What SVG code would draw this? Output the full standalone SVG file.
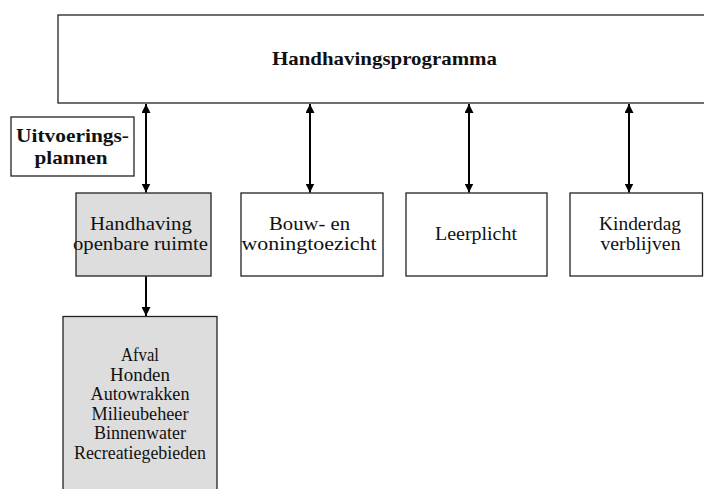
<svg xmlns="http://www.w3.org/2000/svg" width="704" height="489" viewBox="0 0 704 489">
  <style>
    .box { fill: #ffffff; stroke: #222222; stroke-width: 1.3; }
    .grey { fill: #dddddd; stroke: #222222; stroke-width: 1.3; }
    .txt { font-family: "Liberation Serif", "Times New Roman", serif; font-size: 19px; fill: #111111; text-anchor: middle; }
    .list { font-size: 18px; }
    .bold { font-weight: bold; font-size: 19.5px; }
    .conn { stroke: #000000; stroke-width: 2; fill: none; }
  </style>
  <defs>
    <marker id="head" viewBox="0 0 10 10" refX="10" refY="5" markerWidth="4.5" markerHeight="4.5" orient="auto-start-reverse" markerUnits="strokeWidth">
      <path d="M0,0 L10,5 L0,10 Z" fill="#000000"/>
    </marker>
  </defs>

  <rect width="704" height="489" fill="#ffffff"/>

  <!-- programme header, runs past the right edge -->
  <g id="programma">
    <rect class="box" x="58" y="15" width="660" height="88"/>
    <text class="txt bold" x="384.5" y="65" textLength="225" lengthAdjust="spacingAndGlyphs">Handhavingsprogramma</text>
  </g>

  <!-- side label -->
  <g id="uitvoeringsplannen">
    <rect class="box" x="11" y="117" width="123" height="59"/>
    <text class="txt bold" x="72.5" y="142" textLength="113" lengthAdjust="spacingAndGlyphs">Uitvoerings-</text>
    <text class="txt bold" x="71" y="164" textLength="73" lengthAdjust="spacingAndGlyphs">plannen</text>
  </g>

  <g id="openbare-ruimte">
    <rect class="grey" x="76" y="193" width="135" height="83"/>
    <text class="txt" x="141" y="230" textLength="102" lengthAdjust="spacingAndGlyphs">Handhaving</text>
    <text class="txt" x="140.5" y="250" textLength="135" lengthAdjust="spacingAndGlyphs">openbare ruimte</text>
  </g>

  <g id="bouw">
    <rect class="box" x="241" y="193" width="142" height="83"/>
    <text class="txt" x="309.5" y="230" textLength="81" lengthAdjust="spacingAndGlyphs">Bouw- en</text>
    <text class="txt" x="309" y="250" textLength="135" lengthAdjust="spacingAndGlyphs">woningtoezicht</text>
  </g>

  <g id="leerplicht">
    <rect class="box" x="406" y="193" width="141" height="83"/>
    <text class="txt" x="476" y="240" textLength="82" lengthAdjust="spacingAndGlyphs">Leerplicht</text>
  </g>

  <g id="kinderdagverblijven">
    <rect class="box" x="570" y="193" width="132.5" height="83"/>
    <text class="txt" x="640" y="230" textLength="82" lengthAdjust="spacingAndGlyphs">Kinderdag</text>
    <text class="txt" x="640.5" y="250" textLength="80" lengthAdjust="spacingAndGlyphs">verblijven</text>
  </g>

  <!-- task list, continues below the bottom edge -->
  <g id="taken">
    <rect class="grey" x="63" y="316.5" width="154" height="200"/>
    <text class="txt list" x="140" y="361" textLength="38" lengthAdjust="spacingAndGlyphs">Afval</text>
    <text class="txt list" x="140" y="380.5" textLength="60" lengthAdjust="spacingAndGlyphs">Honden</text>
    <text class="txt list" x="140" y="400" textLength="99" lengthAdjust="spacingAndGlyphs">Autowrakken</text>
    <text class="txt list" x="140" y="419.5" textLength="97" lengthAdjust="spacingAndGlyphs">Milieubeheer</text>
    <text class="txt list" x="140" y="439" textLength="92" lengthAdjust="spacingAndGlyphs">Binnenwater</text>
    <text class="txt list" x="140" y="458.5" textLength="132" lengthAdjust="spacingAndGlyphs">Recreatiegebieden</text>
  </g>

  <g id="connectors">
    <line class="conn" x1="146" y1="104" x2="146" y2="192.5" marker-start="url(#head)" marker-end="url(#head)"/>
    <line class="conn" x1="310" y1="104" x2="310" y2="192.5" marker-start="url(#head)" marker-end="url(#head)"/>
    <line class="conn" x1="469" y1="104" x2="469" y2="192.5" marker-start="url(#head)" marker-end="url(#head)"/>
    <line class="conn" x1="629" y1="104" x2="629" y2="192.5" marker-start="url(#head)" marker-end="url(#head)"/>
    <line class="conn" x1="146" y1="276.5" x2="146" y2="316" marker-end="url(#head)"/>
  </g>
</svg>
